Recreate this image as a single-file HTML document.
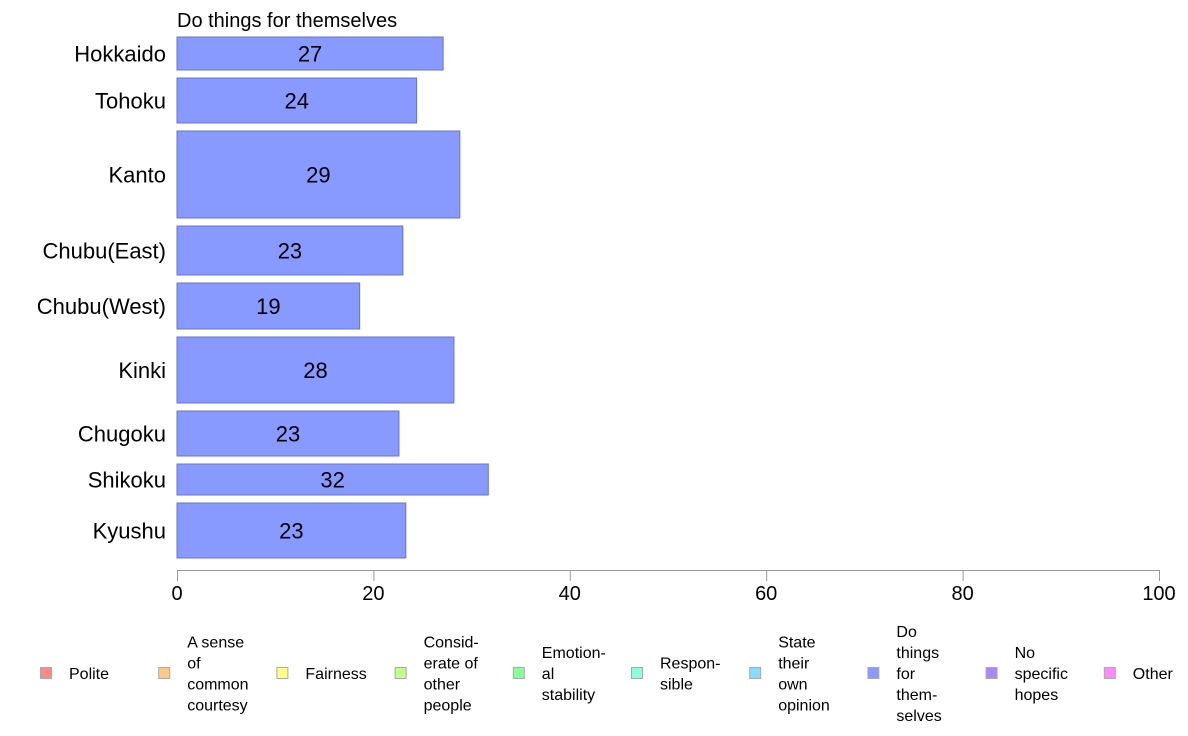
<!DOCTYPE html>
<html><head><meta charset="utf-8">
<style>
html,body{margin:0;padding:0;background:#fff;}
svg{display:block;font-family:"Liberation Sans",Arial,sans-serif;}
</style></head>
<body>
<svg id="chart" width="1188" height="736" viewBox="0 0 1188 736">
<text x="177" y="27" font-size="20" fill="#000">Do things for themselves</text>
<g id="bars"></g>
<g id="xaxis"></g>
<g id="legend"></g>
</svg>
<script>
const categories = ["Hokkaido","Tohoku","Kanto","Chubu(East)","Chubu(West)","Kinki","Chugoku","Shikoku","Kyushu"];
const values = [27.1,24.4,28.8,23.0,18.6,28.2,22.6,31.7,23.3];
const labels = ["27","24","29","23","19","28","23","32","23"];
const weights = [33,45,87,49,46,66,45,31,55];
const xTicks = [0,20,40,60,80,100];
const legendNames = [["Polite"],["A sense","of","common","courtesy"],["Fairness"],["Consid-","erate of","other","people"],["Emotion-","al","stability"],["Respon-","sible"],["State","their","own","opinion"],["Do","things","for","them-","selves"],["No","specific","hopes"],["Other"]];
const legendColors = ["#ff8888","#ffc888","#ffff88","#c0ff88","#88ff99","#88ffdd","#88ddff","#8899ff","#aa88ff","#ff88ff"];

const NS="http://www.w3.org/2000/svg";
const X0=177,X1=1159,Y0=37,Y1=558,GAP=8;
function x(v){return X0+(X1-X0)*v/100;}
const totalW=weights.reduce((a,b)=>a+b,0);
const scaleH=(Y1-Y0-GAP*(weights.length-1))/totalW;
function mk(tag,attrs,parent){const e=document.createElementNS(NS,tag);for(const k in attrs)e.setAttribute(k,attrs[k]);parent.appendChild(e);return e;}
const gb=document.getElementById('bars');
let yy=Y0;
categories.forEach((c,i)=>{
  const h=weights[i]*scaleH;
  const r=mk('rect',{x:X0,y:yy,width:x(values[i])-X0,height:h,fill:'#8899ff',stroke:'#6a74c8','stroke-width':1},gb);
  
  
  const t=mk('text',{x:(X0+x(values[i]))/2,y:yy+h/2+8,'font-size':22,'text-anchor':'middle',fill:'#000'},gb);
  t.textContent=labels[i];
  
  
  const l=mk('text',{x:166,y:yy+h/2+8,'font-size':22,'text-anchor':'end',fill:'#000'},gb);
  l.textContent=c;
  
  
  yy+=h+GAP;
});
const ga=document.getElementById('xaxis');
const al=mk('line',{x1:X0,x2:X1,y1:570.5,y2:570.5,stroke:'#999','stroke-width':1},ga);


xTicks.forEach(v=>{
  const tk=mk('line',{x1:x(v)+0.5,x2:x(v)+0.5,y1:570,y2:581,stroke:'#999','stroke-width':1},ga);
  
  
  const t=mk('text',{x:x(v),y:600,'font-size':20,'text-anchor':'middle',fill:'#000'},ga);
  t.textContent=v;
  
  
});
const gl=document.getElementById('legend');
legendNames.forEach((lines,i)=>{
  const lx=40+118.2*i;
  const g=mk('g',{},gl);
  
  
  mk('rect',{x:lx+0.5,y:667.5,width:11,height:11,fill:legendColors[i],stroke:'#aaa','stroke-width':1},g);
  const n=lines.length, lh=21;
  const start=673-(n-1)*lh/2+6;
  lines.forEach((s,j)=>{
    const t=mk('text',{x:lx+29,y:start+j*lh,'font-size':16,fill:'#000'},g);
    t.textContent=s;
  });
});
</script>
</body></html>
